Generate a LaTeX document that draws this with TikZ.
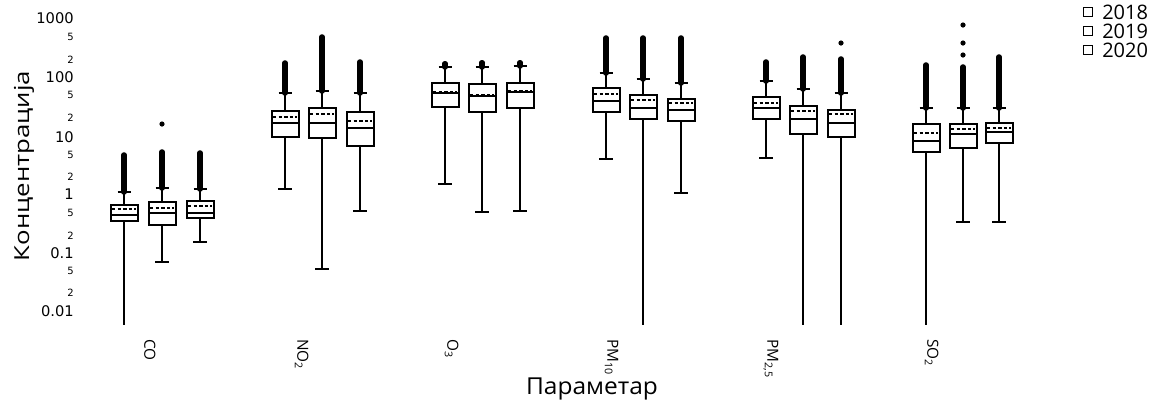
\documentclass[tikz,border=0pt]{standalone}
\usepackage{fontspec}
\setmainfont{Open Sans}
\newfontfamily\tickfont{DejaVu Sans}
\tikzset{
  whisk/.style={line width=1.1pt},
  capst/.style={line width=1.3pt},
  outl/.style={line width=4.2pt, line cap=round},
  boxst/.style={line width=1.5pt},
  medst/.style={line width=1.2pt},
  meanst/.style={line width=0.9pt, dash pattern=on 2.6pt off 1.6pt},
  dotst/.style={fill=black, draw=none},
  bigtick/.style={font=\tickfont\fontsize{11}{12}\selectfont, anchor=east, inner sep=0pt},
  smalltick/.style={font=\tickfont\fontsize{7.5}{8}\selectfont, anchor=east, inner sep=0pt},
  xlab/.style={font=\fontsize{11.5}{12}\selectfont, rotate=-90, anchor=mid west, inner sep=0pt},
  legtext/.style={font=\fontsize{15}{16}\selectfont, anchor=west, inner sep=0pt},
  legbox/.style={draw, line width=1.1pt, minimum size=7pt, inner sep=0pt}
}
% #1 x, #2 box top, #3 box bottom, #4 median, #5 mean, #6 upper cap, #7 outlier top, #8 lower cap (0 = none)
\newcommand\bxplot[8]{%
  \draw[whisk] (#1,#2) -- (#1,#6);
  \draw[outl] (#1,#6) -- (#1,#7);
  \draw[capst] (#1-6.5,#6) -- (#1+6.5,#6);
  \ifnum#8=0
    \draw[whisk] (#1,#3) -- (#1,325);
  \else
    \draw[whisk] (#1,#3) -- (#1,#8);
    \draw[capst] (#1-7,#8) -- (#1+7,#8);
  \fi
  \draw[boxst] (#1-13.5,#2) rectangle (#1+13.5,#3);
  \draw[medst] (#1-13.5,#4) -- (#1+13.5,#4);
  \draw[meanst] (#1-12,#5) -- (#1+12,#5);
}
\newcommand\sbs[1]{\raisebox{-0.3ex}{\fontsize{8}{9}\selectfont #1}}
\begin{document}
\begin{tikzpicture}[x=0.75pt,y=-0.75pt]
\useasboundingbox (0,0) rectangle (1172,405);
\fill[white] (0,0) rectangle (1172,405);

% y tick labels
\node[bigtick] (t1000) at (74,18) {1000};
\node[smalltick] (t500) at (74,37) {5};
\node[smalltick] (t200) at (74,60) {2};
\node[bigtick] (t100) at (74,77) {100};
\node[smalltick] (t50) at (74,95) {5};
\node[smalltick] (t20) at (74,118) {2};
\node[bigtick] (t10) at (74,137) {10};
\node[smalltick] (t5) at (74,155) {5};
\node[smalltick] (t2) at (74,177) {2};
\node[bigtick] (t1) at (74,194) {1};
\node[smalltick] (t05) at (74,213) {5};
\node[smalltick] (t02) at (74,236) {2};
\node[bigtick] (t01) at (74,253) {0.1};
\node[smalltick] (t005) at (74,271) {5};
\node[smalltick] (t002) at (74,293) {2};
\node[bigtick] (t001) at (74,311) {0.01};

% axis titles
\node[rotate=90, inner sep=0pt, font=\fontsize{15.5}{16}\selectfont] (ytitle) at (24,166) {\scalebox{1.25}[1]{Концентрација}};
\node[inner sep=0pt, font=\fontsize{17.5}{18}\selectfont] (xtitle) at (592,389) {\scalebox{1.05}[1]{Параметар}};

% x labels
\node[xlab] (lco) at (148,339) {CO};
\node[xlab] (lno) at (301,339) {NO\sbs{2}};
\node[xlab] (lo3) at (451,339) {O\sbs{3}};
\node[xlab] (lpm10) at (611,339) {PM\sbs{10}};
\node[xlab] (lpm25) at (771,339) {PM\sbs{2,5}};
\node[xlab] (lso2) at (931,339) {SO\sbs{2}};

% legend
\node[legbox] (lb1) at (1088,12) {};
\node[legbox] (lb2) at (1088,31) {};
\node[legbox] (lb3) at (1088,50) {};
\node[legtext] (lt1) at (1102,12) {2018};
\node[legtext] (lt2) at (1102,31) {2019};
\node[legtext] (lt3) at (1102,50) {2020};

% CO
\bxplot{124}{205}{221}{215}{209}{192}{155}{0}
\bxplot{162}{202}{225}{213}{208}{188}{152}{262}
\bxplot{200}{201}{218}{213}{206}{189}{153}{242}
\fill[dotst] (162,124) circle (2.6);
% NO2
\bxplot{285}{111}{137}{123}{117}{93}{63}{189}
\bxplot{322}{108}{138}{123}{114}{91}{37}{269}
\bxplot{360}{112}{146}{128}{121}{93}{62}{211}
% O3
\bxplot{445}{83}{107}{93}{92}{67}{64}{184}
\bxplot{482}{84}{112}{96}{95}{67}{63}{212}
\bxplot{520}{83}{108}{92}{91}{66}{63}{211}
\fill[dotst] (445,64) circle (3);
\fill[dotst] (482,63) circle (3);
\fill[dotst] (520,63) circle (3);
% PM10
\bxplot{606}{88}{112}{101}{94}{73}{38}{159}
\bxplot{643}{95}{119}{108}{100}{79}{38}{0}
\bxplot{681}{99}{121}{110}{103}{83}{38}{193}
% PM2,5
\bxplot{766}{97}{119}{108}{103}{81}{62}{158}
\bxplot{803}{106}{134}{119}{111}{89}{57}{0}
\bxplot{841}{110}{137}{123}{114}{93}{59}{0}
\fill[dotst] (841,43) circle (2.6);
% SO2
\bxplot{926}{124}{152}{141}{133}{108}{65}{0}
\bxplot{963}{124}{148}{134}{129}{108}{67}{222}
\bxplot{999}{123}{143}{132}{128}{108}{57}{222}
\fill[dotst] (963,55) circle (2.6);
\fill[dotst] (963,43) circle (2.6);
\fill[dotst] (963,25) circle (2.6);
\end{tikzpicture}
\end{document}
